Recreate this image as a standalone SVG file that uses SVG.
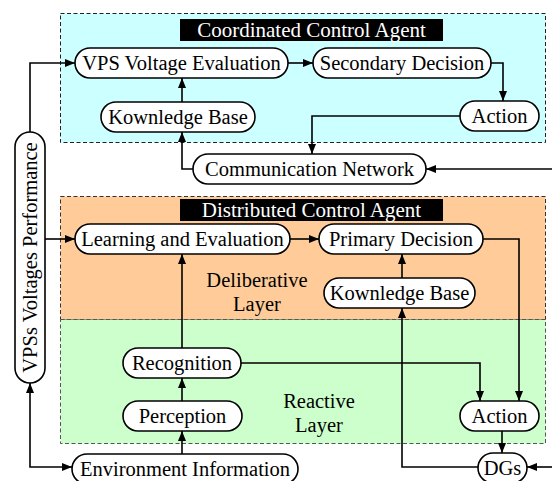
<svg xmlns="http://www.w3.org/2000/svg" width="552" height="481" viewBox="0 0 552 481">
<defs>
<marker id="ah" viewBox="0 0 10 8" refX="10" refY="4" markerWidth="10" markerHeight="8" markerUnits="userSpaceOnUse" orient="auto-start-reverse">
<path d="M0,0 L10,4 L0,8 Z" fill="#000"/>
</marker>
<style>
.node rect{fill:#fff;stroke:#000;stroke-width:1.6}
.node text,.lbl{font-family:"Liberation Serif","Times New Roman",serif;font-size:20.5px;fill:#000;text-anchor:middle}
.title rect{fill:#000}
.title text{font-family:"Liberation Serif","Times New Roman",serif;font-size:21px;fill:#fff;text-anchor:middle}
.conn path{fill:none;stroke:#000;stroke-width:1.6;marker-end:url(#ah)}
.panel{stroke-width:1;stroke-dasharray:4 2.5}
</style>
</defs>
<rect width="552" height="481" fill="#fff"/>
<g id="panels">
<rect class="panel" x="60.5" y="13.5" width="485" height="129" fill="#CCFFFF" stroke="#222"/>
<rect class="panel" x="60.5" y="196.5" width="485" height="123" fill="#FFCC99" stroke="#333"/>
<rect class="panel" x="60.5" y="319.5" width="485" height="124" fill="#CCFFCC" stroke="#555"/>
</g>
<g id="title-coordinated" class="title">
<rect x="180" y="19" width="263" height="22"/>
<text x="311.5" y="37">Coordinated Control Agent</text>
</g>
<g id="title-distributed" class="title">
<rect x="180" y="199" width="263" height="22"/>
<text x="311.5" y="217">Distributed Control Agent</text>
</g>
<g id="label-deliberative">
<text class="lbl" x="257" y="287">Deliberative</text>
<text class="lbl" x="257" y="311">Layer</text>
</g>
<g id="label-reactive">
<text class="lbl" x="319" y="408">Reactive</text>
<text class="lbl" x="319" y="432">Layer</text>
</g>
<g id="connectors" class="conn">
<path d="M30,132 V63 H75"/>
<path d="M288,63 H313"/>
<path d="M491,63 H503 V101"/>
<path d="M460,116 H312 V154"/>
<path d="M193,169 H182 V132"/>
<path d="M182,102 V78"/>
<path d="M552,169 H426"/>
<path d="M45,239 H75"/>
<path d="M290,239 H319"/>
<path d="M483,239 H519 V401"/>
<path d="M241,363 H480 V401"/>
<path d="M182,348 V254"/>
<path d="M182,401 V378"/>
<path d="M182,454 V431"/>
<path d="M30,383 V467 H72" style="marker-start:url(#ah)"/>
<path d="M402,278 V254"/>
<path d="M478,467 H402 V308"/>
<path d="M502,431 V453"/>
<path d="M552,467 H527"/>
</g>
<g id="vpss-performance" class="node">
<rect x="15" y="132" width="30" height="251" rx="15"/>
<text transform="translate(37,257.5) rotate(-90)" x="0" y="0">VPSs Voltages Performance</text>
</g>
<g id="vps-voltage-evaluation" class="node">
<rect x="75" y="48" width="213" height="30" rx="15"/>
<text x="181.5" y="70">VPS Voltage Evaluation</text>
</g>
<g id="secondary-decision" class="node">
<rect x="313" y="48" width="178" height="30" rx="15"/>
<text x="402" y="70">Secondary Decision</text>
</g>
<g id="action-top" class="node">
<rect x="460" y="101" width="79" height="30" rx="15"/>
<text x="499.5" y="123">Action</text>
</g>
<g id="knowledge-base-top" class="node">
<rect x="101" y="102" width="154" height="30" rx="15"/>
<text x="178" y="124">Kownledge Base</text>
</g>
<g id="communication-network" class="node">
<rect x="193" y="154" width="233" height="30" rx="15"/>
<text x="309.5" y="176">Communication Network</text>
</g>
<g id="learning-evaluation" class="node">
<rect x="75" y="224" width="215" height="30" rx="15"/>
<text x="182.5" y="246">Learning and Evaluation</text>
</g>
<g id="primary-decision" class="node">
<rect x="319" y="224" width="164" height="30" rx="15"/>
<text x="401" y="246">Primary Decision</text>
</g>
<g id="knowledge-base-lower" class="node">
<rect x="324" y="278" width="151" height="30" rx="15"/>
<text x="399.5" y="300">Kownledge Base</text>
</g>
<g id="recognition" class="node">
<rect x="123" y="348" width="118" height="30" rx="15"/>
<text x="182" y="370">Recognition</text>
</g>
<g id="perception" class="node">
<rect x="123" y="401" width="119" height="30" rx="15"/>
<text x="182.5" y="423">Perception</text>
</g>
<g id="action-lower" class="node">
<rect x="460" y="401" width="79" height="30" rx="15"/>
<text x="499.5" y="423">Action</text>
</g>
<g id="environment-information" class="node">
<rect x="72" y="454" width="226" height="30" rx="15"/>
<text x="185" y="476">Environment Information</text>
</g>
<g id="dgs" class="node">
<rect x="478" y="453" width="49" height="30" rx="15"/>
<text x="502.5" y="475">DGs</text>
</g>
</svg>
